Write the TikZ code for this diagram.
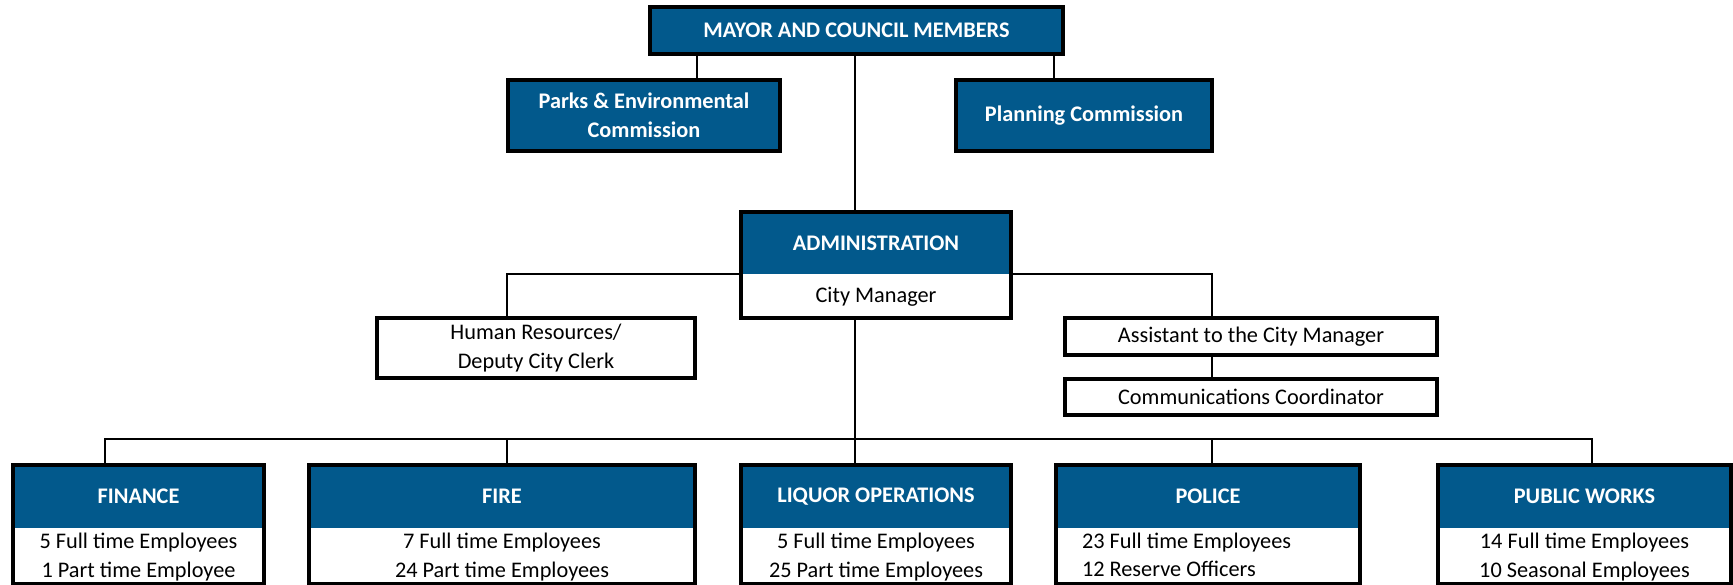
\documentclass[tikz,border=0pt]{standalone}
\usepackage{fontspec}
\setmainfont{Carlito}
\definecolor{cityblue}{HTML}{02598C}
\begin{document}
\begin{tikzpicture}%
	[x=1pt, y=-1pt,
	every node/.style={font=\fontsize{22.3}{28.5}\selectfont, inner sep=0pt, outer sep=0pt},
	edge/.style={draw=black, line width=2pt},
	frame/.style={draw=black, line width=4pt},
	head/.style={fill=cityblue, text=white, font=\fontsize{22.3}{29}\selectfont\bfseries, align=center},
	body/.style={fill=white, text=black, align=center}]
%
\useasboundingbox (0,0) rectangle (1733,585);
%
%% Where the connectors branch off
%%
\coordinate (parkstap) at (697, 0);
\coordinate (plantap) at (1054, 0);
\coordinate (spine) at (855, 0);
\coordinate (hrtap) at (507, 274);
\coordinate (asttap) at (1212, 274);
\coordinate (buswest) at (105, 439);
\coordinate (buseast) at (1592, 439);
%%
%%
%% Council and commissions
%%
\node[head, frame, minimum width=413, minimum height=47] (mayor) at (856.5, 30.5) {MAYOR AND COUNCIL MEMBERS};
\node[head, frame, minimum width=272, minimum height=71] (parks) at (644, 115.5) {Parks \& Environmental\\Commission};
\node[head, frame, minimum width=256, minimum height=71] (planning) at (1084, 115.5) {Planning Commission};
%%
%%
%% Administration and staff
%%
\node[head, minimum width=270, minimum height=62] (adminhead) at (876, 243) {ADMINISTRATION};
\node[body, minimum width=270, minimum height=43] (adminbody) at (876, 297) {City Manager};
\draw[frame] (adminhead.north west) rectangle (adminbody.south east);
\node[body, frame, minimum width=318, minimum height=60] (hr) at (536, 348) {Human Resources/\\Deputy City Clerk};
\node[body, frame, minimum width=372, minimum height=37] (assistant) at (1251, 336.5) {Assistant to the City Manager};
\node[body, frame, minimum width=372, minimum height=36] (comms) at (1251, 397) {Communications Coordinator};
%%
%%
%% Departments
%%
\node[head, minimum width=251, minimum height=63] (finhead) at (138.5, 496.5) {FINANCE};
\node[body, minimum width=251, minimum height=54] (finbody) at (138.5, 557) {5 Full time Employees\\1 Part time Employee};
\draw[frame] (finhead.north west) rectangle (finbody.south east);
\node[head, minimum width=386, minimum height=63] (firehead) at (502, 496.5) {FIRE};
\node[body, minimum width=386, minimum height=54] (firebody) at (502, 557) {7 Full time Employees\\24 Part time Employees};
\draw[frame] (firehead.north west) rectangle (firebody.south east);
\node[head, minimum width=270, minimum height=63] (liqhead) at (876, 496.5) {LIQUOR OPERATIONS};
\node[body, minimum width=270, minimum height=54] (liqbody) at (876, 557) {5 Full time Employees\\25 Part time Employees};
\draw[frame] (liqhead.north west) rectangle (liqbody.south east);
\node[head, minimum width=304, minimum height=63] (polhead) at (1208, 496.5) {POLICE};
\node[body, minimum width=304, minimum height=54] (polbody) at (1208, 557) {};
\node[anchor=west, align=flush left] (poltext) at (1082, 555) {23 Full time Employees\\12 Reserve Officers};
\draw[frame] (polhead.north west) rectangle (polbody.south east);
\node[head, minimum width=293, minimum height=63] (pwhead) at (1584.5, 496.5) {PUBLIC WORKS};
\node[body, minimum width=293, minimum height=54] (pwbody) at (1584.5, 557) {14 Full time Employees\\10 Seasonal Employees};
\draw[frame] (pwhead.north west) rectangle (pwbody.south east);
%%
%%
%% Connectors
%%
\draw[edge] (mayor.south -| parkstap) -- (parks.north -| parkstap);
\draw[edge] (mayor.south -| plantap) -- (planning.north -| plantap);
\draw[edge] (mayor.south -| spine) -- (adminhead.north -| spine);
\draw[edge] (hr.north -| hrtap) |- (adminhead.south west);
\draw[edge] (assistant.north -| asttap) |- (adminhead.south east);
\draw[edge] (assistant.south -| asttap) -- (comms.north -| asttap);
\draw[edge] (adminbody.south -| spine) -- (liqhead.north -| spine);
\draw[edge] (finhead.north -| buswest) -- (buswest) -- (buseast) -- (pwhead.north -| buseast);
\draw[edge] (firehead.north -| hrtap) -- (hrtap |- buswest);
\draw[edge] (polhead.north -| asttap) -- (asttap |- buswest);
%%
%%
\end{tikzpicture}
\end{document}
